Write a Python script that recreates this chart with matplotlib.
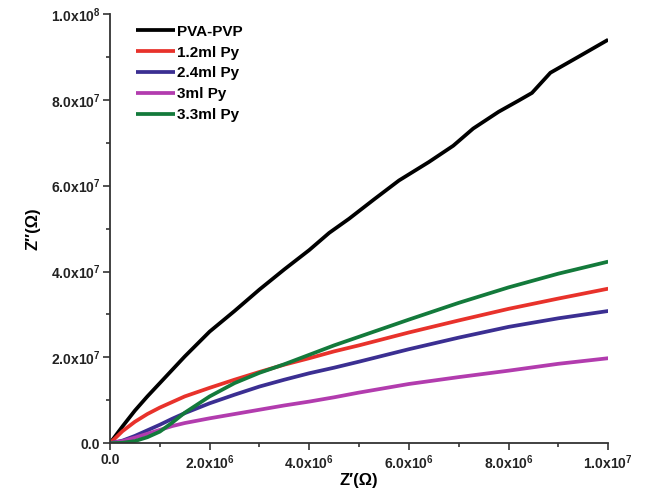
import matplotlib.pyplot as plt
from matplotlib.ticker import FixedLocator, MultipleLocator

plt.rcParams['font.family'] = ['Liberation Sans', 'DejaVu Sans']
plt.rcParams['font.weight'] = 'bold'
plt.rcParams['mathtext.fontset'] = 'custom'
plt.rcParams['mathtext.rm'] = 'Liberation Sans:bold'
plt.rcParams['mathtext.bf'] = 'Liberation Sans:bold'
plt.rcParams['mathtext.default'] = 'rm'

# Z' values (x 1e6 ohm) and Z'' values (x 1e6 ohm)
x_common = [0, 0.25, 0.5, 0.75, 1, 1.25, 1.5, 2, 2.5, 3, 3.5, 4, 4.5, 5, 6, 7, 8, 9, 10]
y_red = [0, 2.8, 5.0, 6.8, 8.3, 9.6, 10.9, 12.9, 14.8, 16.6, 18.3, 19.8, 21.4, 22.8,
         25.8, 28.6, 31.3, 33.7, 36.0]
y_blue = [0, 0.6, 1.7, 3.0, 4.3, 5.7, 7.0, 9.3, 11.3, 13.2, 14.8, 16.3, 17.6, 19.0,
          21.9, 24.6, 27.1, 29.1, 30.8]
y_magenta = [0, 0.5, 1.3, 2.2, 3.1, 4.0, 4.7, 5.8, 6.8, 7.8, 8.8, 9.7, 10.7, 11.8,
             13.8, 15.4, 16.9, 18.5, 19.8]
y_green = [0, 0.1, 0.5, 1.4, 2.7, 4.8, 7.1, 10.9, 14.0, 16.4, 18.4, 20.6, 22.8, 24.8,
           28.8, 32.7, 36.3, 39.5, 42.3]

x_black = [0, 0.25, 0.5, 0.75, 1, 1.5, 2, 2.5, 3, 3.5, 4, 4.4, 4.8, 5.3, 5.8, 6.4,
           6.89, 7.29, 7.8, 8.2, 8.47, 8.84, 9.4, 10]
y_black = [0, 3.9, 7.6, 10.9, 14.0, 20.2, 26.0, 30.8, 35.8, 40.5, 45.0, 49.0, 52.3,
           56.8, 61.2, 65.5, 69.3, 73.3, 77.2, 79.8, 81.6, 86.3, 90.0, 94.0]

labels = ['PVA-PVP', '1.2ml Py', '2.4ml Py', '3ml Py', '3.3ml Py']
colors = ['#000000', '#e8322b', '#3b2f92', '#b23cae', '#137a3b']

x_ticks = [0, 2e6, 4e6, 6e6, 8e6, 1e7]
x_tick_labels = ['0.0', '2.0x10$^{6}$', '4.0x10$^{6}$', '6.0x10$^{6}$', '8.0x10$^{6}$', '1.0x10$^{7}$']
y_ticks = [0, 2e7, 4e7, 6e7, 8e7, 1e8]
y_tick_labels = ['0.0', '2.0x10$^{7}$', '4.0x10$^{7}$', '6.0x10$^{7}$', '8.0x10$^{7}$', '1.0x10$^{8}$']

fig = plt.figure(figsize=(6.47, 4.98), dpi=100)
ax = fig.add_axes([0.170, 0.110, 0.770, 0.862])

series = [(x_black, y_black), (x_common, y_red), (x_common, y_blue),
          (x_common, y_magenta), (x_common, y_green)]
for (xs, ys), lab, col in zip(series, labels, colors):
    ax.plot([v * 1e6 for v in xs], [v * 1e6 for v in ys], color=col, lw=2.7,
            label=lab, solid_capstyle='butt', solid_joinstyle='round')

ax.set_xlim(0, 1e7)
ax.set_ylim(0, 1e8)
ax.xaxis.set_major_locator(FixedLocator(x_ticks))
ax.yaxis.set_major_locator(FixedLocator(y_ticks))
ax.set_xticklabels(x_tick_labels)
ax.set_yticklabels(y_tick_labels)
ax.xaxis.set_minor_locator(MultipleLocator(1e6))
ax.yaxis.set_minor_locator(MultipleLocator(1e7))

for side in ['top', 'right']:
    ax.spines[side].set_visible(False)
for side in ['left', 'bottom']:
    ax.spines[side].set_linewidth(1.3)
    ax.spines[side].set_color('#333333')
ax.tick_params(which='major', direction='out', length=5, width=1.2,
               labelsize=10, colors='#333333', labelcolor='#222222', pad=2)
ax.tick_params(which='minor', direction='out', length=3, width=1.2, colors='#333333')

ax.set_xlabel("Z\u2032(\u03a9)", fontsize=12, fontweight='bold', labelpad=1)
ax.set_ylabel("Z\u2033(\u03a9)", fontsize=12, fontweight='bold', labelpad=7)

leg = ax.legend(loc='upper left', bbox_to_anchor=(0.03, 1.0), frameon=False,
                fontsize=11, handlelength=2.6, handletextpad=0.1,
                labelspacing=0.45, borderaxespad=0.3)
for t in leg.get_texts():
    t.set_fontweight('bold')

fig.savefig('out.png', dpi=100)
